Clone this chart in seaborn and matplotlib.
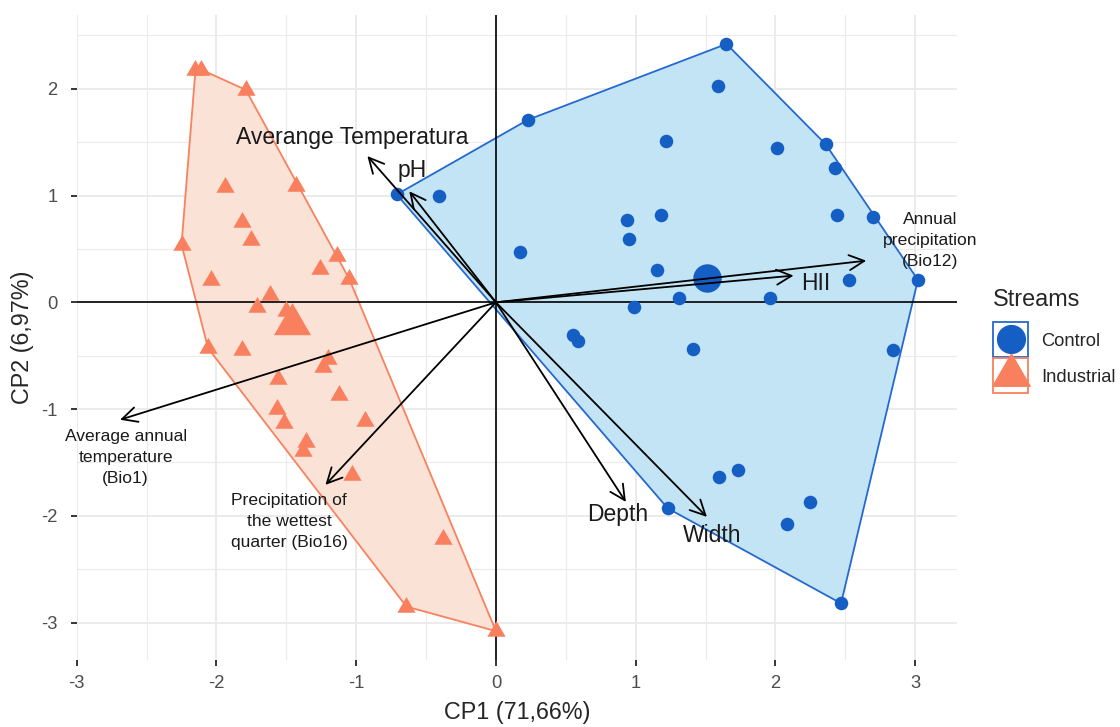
import pandas as pd
import matplotlib.pyplot as plt
import seaborn as sns
from matplotlib.patches import Rectangle
from matplotlib.lines import Line2D

# PCA scores
control_x = [1.65, 1.59, 0.23, 1.22, 2.01, 2.36, 2.43, 2.44, 2.70, 0.94, 1.18,
             0.95, 0.17, 1.15, 2.53, 3.02, 1.31, 1.96, 0.99, -0.71, -0.41,
             0.55, 0.59, 1.41, 2.84, 1.60, 1.73, 2.25, 2.08, 1.23, 2.47]
control_y = [2.42, 2.03, 1.71, 1.51, 1.45, 1.48, 1.26, 0.82, 0.80, 0.77, 0.82,
             0.59, 0.47, 0.30, 0.21, 0.21, 0.04, 0.04, -0.04, 1.01, 1.00,
             -0.31, -0.36, -0.44, -0.45, -1.64, -1.57, -1.87, -2.08, -1.93, -2.82]
industrial_x = [-2.15, -2.11, -1.79, -1.94, -1.43, -1.82, -1.75, -2.25, -1.14, -1.26,
                -1.05, -2.04, -1.62, -1.71, -1.50, -2.06, -1.82, -1.20, -1.24, -1.56,
                -1.12, -1.57, -1.52, -0.94, -1.36, -1.38, -1.03, -0.38, -0.64, 0.00]
industrial_y = [2.18, 2.18, 1.99, 1.08, 1.09, 0.75, 0.58, 0.54, 0.43, 0.31,
                0.22, 0.21, 0.07, -0.04, -0.08, -0.43, -0.45, -0.53, -0.61, -0.72,
                -0.87, -1.00, -1.13, -1.11, -1.31, -1.39, -1.62, -2.22, -2.85, -3.08]

# group means (large markers)
mean_groups = ["Control", "Industrial"]
mean_x = [1.51, -1.46]
mean_y = [0.23, -0.20]

# variable arrows (tips)
var_names = ["Averange Temperatura", "pH", "Annual\nprecipitation\n(Bio12)", "HII",
             "Depth", "Width", "Average annual\ntemperature\n(Bio1)",
             "Precipitation of\nthe wettest\nquarter (Bio16)"]
var_x = [-0.92, -0.62, 2.65, 2.13, 0.93, 1.51, -2.69, -1.22]
var_y = [1.37, 1.04, 0.39, 0.25, -1.87, -2.01, -1.10, -1.71]

# where each arrow label sits, and its font size
label_pos = [(-1.03, 1.54), (-0.60, 1.23), (3.11, 0.58), (2.29, 0.18),
             (0.87, -1.99), (1.55, -2.18), (-2.65, -1.45), (-1.48, -2.05)]
label_size = [16.5, 16.5, 12.6, 16.5, 16.5, 16.5, 12.6, 12.6]

blue, blue_edge, blue_fill = "#145EC4", "#2569CF", "#C2E4F4"
orange, orange_edge, orange_fill = "#F8805F", "#F6825F", "#FBE2D6"
tri = [(0, 1), (-0.866, -0.5), (0.866, -0.5), (0, 1)]

df = pd.DataFrame({
    "x": control_x + industrial_x,
    "y": control_y + industrial_y,
    "Streams": ["Control"] * len(control_x) + ["Industrial"] * len(industrial_x),
})
means = pd.DataFrame({"x": mean_x, "y": mean_y, "Streams": mean_groups})


def convex_hull(xs, ys):
    pts = sorted(set(zip(xs, ys)))

    def cross(o, a, b):
        return (a[0] - o[0]) * (b[1] - o[1]) - (a[1] - o[1]) * (b[0] - o[0])

    lower, upper = [], []
    for p in pts:
        while len(lower) >= 2 and cross(lower[-2], lower[-1], p) <= 0:
            lower.pop()
        lower.append(p)
    for p in reversed(pts):
        while len(upper) >= 2 and cross(upper[-2], upper[-1], p) <= 0:
            upper.pop()
        upper.append(p)
    return lower[:-1] + upper[:-1]


sns.set_theme(style="whitegrid")
plt.rcParams["font.family"] = ["Liberation Sans", "DejaVu Sans"]
plt.rcParams["axes.unicode_minus"] = False

W, H = 1120, 727
fig = plt.figure(figsize=(W / 100, H / 100), dpi=100)
ax = fig.add_axes([0.0685, 0.0922, 0.786, 0.887])

for sub, fc, ec in [("Control", blue_fill, blue_edge), ("Industrial", orange_fill, orange_edge)]:
    d = df[df["Streams"] == sub]
    h = convex_hull(d["x"], d["y"])
    ax.fill([p[0] for p in h], [p[1] for p in h], facecolor=fc, edgecolor=ec,
            lw=1.3, zorder=1)

ax.axhline(0, color="black", lw=1.2, zorder=1.5)
ax.axvline(0, color="black", lw=1.2, zorder=1.5)

sns.scatterplot(data=df[df["Streams"] == "Control"], x="x", y="y", color=blue,
                marker="o", s=95, linewidth=0, legend=False, ax=ax, zorder=3)
sns.scatterplot(data=df[df["Streams"] == "Industrial"], x="x", y="y", color=orange,
                marker=tri, s=230, linewidth=0, legend=False, ax=ax, zorder=3)
sns.scatterplot(data=means[means["Streams"] == "Control"], x="x", y="y", color=blue,
                marker="o", s=420, linewidth=0, legend=False, ax=ax, zorder=3)
sns.scatterplot(data=means[means["Streams"] == "Industrial"], x="x", y="y", color=orange,
                marker=tri, s=950, linewidth=0, legend=False, ax=ax, zorder=3)

for name, tx, ty, pos, fs in zip(var_names, var_x, var_y, label_pos, label_size):
    ax.annotate("", xy=(tx, ty), xytext=(0, 0),
                arrowprops=dict(arrowstyle="->,head_length=0.9,head_width=0.45",
                                color="black", lw=1.3, shrinkA=0, shrinkB=0),
                zorder=4)
    ax.text(pos[0], pos[1], name, fontsize=fs, ha="center", va="center",
            color="#1a1a1a", linespacing=1.5, zorder=5)

ax.set_xlim(-2.98, 3.30)
ax.set_ylim(-3.35, 2.69)
ax.set_xticks([-3, -2, -1, 0, 1, 2, 3])
ax.set_yticks([-3, -2, -1, 0, 1, 2])
ax.set_xticks([-2.5, -1.5, -0.5, 0.5, 1.5, 2.5], minor=True)
ax.set_yticks([-2.5, -1.5, -0.5, 0.5, 1.5, 2.5], minor=True)
ax.grid(which="major", color="#EBEBEB", lw=1.4)
ax.grid(which="minor", color="#EBEBEB", lw=0.8)
ax.set_axisbelow(True)
for s in ax.spines.values():
    s.set_visible(False)
ax.tick_params(axis="both", which="major", length=4, width=1.1, color="black",
               labelsize=13.2, labelcolor="#4D4D4D", bottom=True, left=True)
ax.tick_params(axis="x", pad=7)
ax.tick_params(axis="y", pad=10)
ax.tick_params(which="minor", length=0)
ax.set_xlabel("CP1 (71,66%)", fontsize=16.8, labelpad=6)
ax.set_ylabel("CP2 (6,97%)", fontsize=16.8, labelpad=5)

# legend drawn by hand (box keys with the markers on top), pixel layout
def fx(px):
    return px / W


def fy(py):
    return 1 - py / H


fig.text(fx(993), fy(300), "Streams", fontsize=16.8, ha="left", va="center")
keys = [("Control", blue, blue_edge, "o", 20, 339),
        ("Industrial", orange, orange_edge, tri, 31, 375)]
for i, (lab, col, ec, mk, ms, my) in enumerate(keys):
    top = 322 + 36 * i
    fig.add_artist(Rectangle((fx(993), fy(top + 35)), 35 / W, 35 / H,
                             transform=fig.transFigure, facecolor="white",
                             edgecolor=ec, lw=1.3))
    fig.add_artist(Line2D([fx(1011)], [fy(my)], transform=fig.transFigure,
                          marker=mk, color=col, markersize=ms, linestyle="none"))
    fig.text(fx(1041), fy(top + 19), lab, fontsize=13.2, ha="left", va="center")

fig.savefig("out.png", dpi=100)
